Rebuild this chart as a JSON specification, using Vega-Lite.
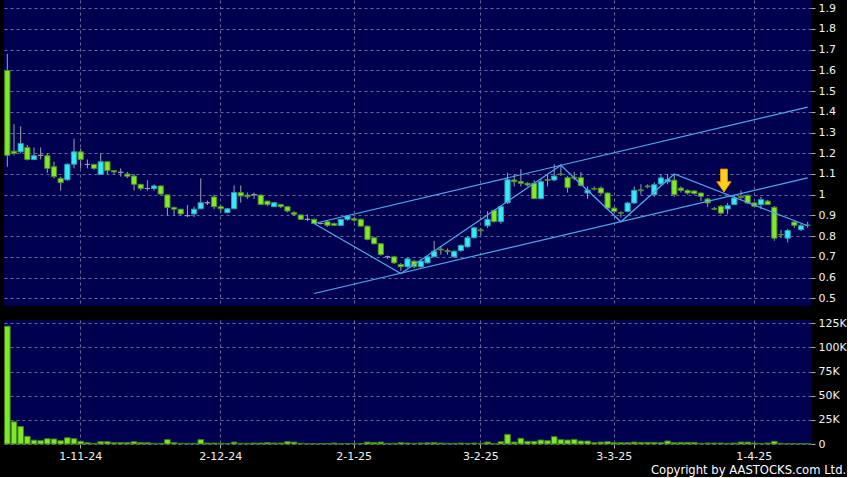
{
  "$schema": "https://vega.github.io/schema/vega-lite/v6.json",
  "background": "#000000",
  "padding": {"left": 4, "top": 0, "right": 0, "bottom": 0},
  "title": {"text": "Copyright by AASTOCKS.com Ltd.", "orient": "bottom", "anchor": "end", "fontSize": 11.6, "fontWeight": "normal", "color": "#ffffff", "font": "DejaVu Sans", "offset": 4},
  "config": {
    "view": {"fill": "#000050", "stroke": null},
    "axis": {"gridColor": "#6a6a9c", "gridDash": [3, 3], "gridWidth": 1, "labelFont": "DejaVu Sans", "labelFontSize": 11, "labelColor": "#f2f2f2", "tickColor": "#b0b0b0", "domain": false, "title": null, "labelOverlap": false}
  },
  "datasets": {
    "ohlc": [
      {"date": "17-10-24", "open": 1.60, "high": 1.68, "low": 1.135, "close": 1.19, "volume": 122000},
      {"date": "18-10-24", "open": 1.21, "high": 1.34, "low": 1.19, "close": 1.20, "volume": 23000},
      {"date": "21-10-24", "open": 1.207, "high": 1.33, "low": 1.20, "close": 1.247, "volume": 18000},
      {"date": "22-10-24", "open": 1.228, "high": 1.24, "low": 1.165, "close": 1.17, "volume": 8000},
      {"date": "23-10-24", "open": 1.17, "high": 1.228, "low": 1.167, "close": 1.188, "volume": 4000},
      {"date": "24-10-24", "open": 1.19, "high": 1.228, "low": 1.17, "close": 1.19, "volume": 3500},
      {"date": "25-10-24", "open": 1.188, "high": 1.20, "low": 1.106, "close": 1.127, "volume": 5500},
      {"date": "28-10-24", "open": 1.135, "high": 1.16, "low": 1.079, "close": 1.087, "volume": 5200},
      {"date": "29-10-24", "open": 1.079, "high": 1.087, "low": 1.02, "close": 1.058, "volume": 3400},
      {"date": "30-10-24", "open": 1.072, "high": 1.15, "low": 1.068, "close": 1.147, "volume": 6500},
      {"date": "31-10-24", "open": 1.147, "high": 1.27, "low": 1.127, "close": 1.207, "volume": 5500},
      {"date": "1-11-24", "open": 1.207, "high": 1.223, "low": 1.127, "close": 1.17, "volume": 2800},
      {"date": "4-11-24", "open": 1.146, "high": 1.17, "low": 1.127, "close": 1.146, "volume": 1400},
      {"date": "5-11-24", "open": 1.146, "high": 1.15, "low": 1.12, "close": 1.127, "volume": 700},
      {"date": "6-11-24", "open": 1.098, "high": 1.20, "low": 1.098, "close": 1.159, "volume": 2400},
      {"date": "7-11-24", "open": 1.159, "high": 1.16, "low": 1.10, "close": 1.116, "volume": 2400},
      {"date": "8-11-24", "open": 1.116, "high": 1.118, "low": 1.10, "close": 1.11, "volume": 1400},
      {"date": "11-11-24", "open": 1.108, "high": 1.127, "low": 1.087, "close": 1.108, "volume": 1400},
      {"date": "12-11-24", "open": 1.10, "high": 1.11, "low": 1.08, "close": 1.089, "volume": 1400},
      {"date": "13-11-24", "open": 1.09, "high": 1.10, "low": 1.02, "close": 1.05, "volume": 2400},
      {"date": "14-11-24", "open": 1.05, "high": 1.05, "low": 1.02, "close": 1.03, "volume": 1400},
      {"date": "15-11-24", "open": 1.03, "high": 1.07, "low": 1.02, "close": 1.03, "volume": 1400},
      {"date": "18-11-24", "open": 1.03, "high": 1.05, "low": 1.02, "close": 1.042, "volume": 700},
      {"date": "19-11-24", "open": 1.042, "high": 1.045, "low": 0.998, "close": 1.003, "volume": 700},
      {"date": "20-11-24", "open": 0.999, "high": 1.0, "low": 0.899, "close": 0.938, "volume": 4500},
      {"date": "21-11-24", "open": 0.938, "high": 0.943, "low": 0.899, "close": 0.93, "volume": 1400},
      {"date": "22-11-24", "open": 0.93, "high": 0.93, "low": 0.899, "close": 0.907, "volume": 700},
      {"date": "25-11-24", "open": 0.899, "high": 0.95, "low": 0.892, "close": 0.899, "volume": 700},
      {"date": "26-11-24", "open": 0.907, "high": 0.943, "low": 0.892, "close": 0.93, "volume": 700},
      {"date": "27-11-24", "open": 0.932, "high": 1.079, "low": 0.93, "close": 0.961, "volume": 4500},
      {"date": "28-11-24", "open": 0.961, "high": 0.972, "low": 0.95, "close": 0.961, "volume": 1000},
      {"date": "29-11-24", "open": 0.989, "high": 1.0, "low": 0.93, "close": 0.942, "volume": 1000},
      {"date": "2-12-24", "open": 0.942, "high": 0.95, "low": 0.915, "close": 0.932, "volume": 700},
      {"date": "3-12-24", "open": 0.913, "high": 0.935, "low": 0.91, "close": 0.932, "volume": 500},
      {"date": "4-12-24", "open": 0.932, "high": 1.045, "low": 0.93, "close": 1.01, "volume": 2000},
      {"date": "5-12-24", "open": 1.01, "high": 1.045, "low": 0.961, "close": 0.994, "volume": 700},
      {"date": "6-12-24", "open": 0.998, "high": 1.01, "low": 0.98, "close": 0.99, "volume": 700},
      {"date": "9-12-24", "open": 1.0, "high": 1.01, "low": 0.98, "close": 1.0, "volume": 1000},
      {"date": "10-12-24", "open": 0.998, "high": 1.0, "low": 0.95, "close": 0.953, "volume": 1000},
      {"date": "11-12-24", "open": 0.969, "high": 0.97, "low": 0.945, "close": 0.952, "volume": 1400},
      {"date": "12-12-24", "open": 0.942, "high": 0.965, "low": 0.94, "close": 0.961, "volume": 1000},
      {"date": "13-12-24", "open": 0.953, "high": 0.955, "low": 0.935, "close": 0.942, "volume": 1000},
      {"date": "16-12-24", "open": 0.942, "high": 0.942, "low": 0.915, "close": 0.921, "volume": 2400},
      {"date": "17-12-24", "open": 0.913, "high": 0.92, "low": 0.897, "close": 0.905, "volume": 2000},
      {"date": "18-12-24", "open": 0.902, "high": 0.905, "low": 0.878, "close": 0.881, "volume": 700},
      {"date": "19-12-24", "open": 0.881, "high": 0.905, "low": 0.873, "close": 0.881, "volume": 500},
      {"date": "20-12-24", "open": 0.881, "high": 0.884, "low": 0.858, "close": 0.861, "volume": 500},
      {"date": "23-12-24", "open": 0.861, "high": 0.866, "low": 0.856, "close": 0.861, "volume": 500},
      {"date": "24-12-24", "open": 0.869, "high": 0.877, "low": 0.845, "close": 0.852, "volume": 500},
      {"date": "27-12-24", "open": 0.861, "high": 0.865, "low": 0.848, "close": 0.852, "volume": 1000},
      {"date": "30-12-24", "open": 0.852, "high": 0.884, "low": 0.85, "close": 0.881, "volume": 500},
      {"date": "31-12-24", "open": 0.881, "high": 0.902, "low": 0.875, "close": 0.897, "volume": 500},
      {"date": "2-1-25", "open": 0.884, "high": 0.89, "low": 0.87, "close": 0.877, "volume": 500},
      {"date": "3-1-25", "open": 0.881, "high": 0.884, "low": 0.845, "close": 0.848, "volume": 500},
      {"date": "6-1-25", "open": 0.848, "high": 0.85, "low": 0.78, "close": 0.784, "volume": 2000},
      {"date": "7-1-25", "open": 0.792, "high": 0.795, "low": 0.76, "close": 0.763, "volume": 1400},
      {"date": "8-1-25", "open": 0.763, "high": 0.765, "low": 0.705, "close": 0.711, "volume": 2000},
      {"date": "9-1-25", "open": 0.70, "high": 0.706, "low": 0.69, "close": 0.70, "volume": 700},
      {"date": "10-1-25", "open": 0.70, "high": 0.705, "low": 0.665, "close": 0.671, "volume": 700},
      {"date": "13-1-25", "open": 0.663, "high": 0.67, "low": 0.632, "close": 0.652, "volume": 1400},
      {"date": "14-1-25", "open": 0.652, "high": 0.695, "low": 0.648, "close": 0.69, "volume": 1000},
      {"date": "15-1-25", "open": 0.679, "high": 0.685, "low": 0.645, "close": 0.652, "volume": 700},
      {"date": "16-1-25", "open": 0.652, "high": 0.69, "low": 0.648, "close": 0.679, "volume": 1000},
      {"date": "17-1-25", "open": 0.671, "high": 0.705, "low": 0.668, "close": 0.70, "volume": 1200},
      {"date": "20-1-25", "open": 0.70, "high": 0.776, "low": 0.70, "close": 0.727, "volume": 1400},
      {"date": "21-1-25", "open": 0.737, "high": 0.752, "low": 0.71, "close": 0.733, "volume": 1000},
      {"date": "22-1-25", "open": 0.73, "high": 0.74, "low": 0.71, "close": 0.725, "volume": 700},
      {"date": "23-1-25", "open": 0.70, "high": 0.73, "low": 0.695, "close": 0.727, "volume": 700},
      {"date": "24-1-25", "open": 0.73, "high": 0.76, "low": 0.725, "close": 0.755, "volume": 1000},
      {"date": "27-1-25", "open": 0.748, "high": 0.80, "low": 0.745, "close": 0.792, "volume": 700},
      {"date": "28-1-25", "open": 0.792, "high": 0.845, "low": 0.79, "close": 0.84, "volume": 1000},
      {"date": "3-2-25", "open": 0.83, "high": 0.84, "low": 0.805, "close": 0.826, "volume": 700},
      {"date": "4-2-25", "open": 0.85, "high": 0.92, "low": 0.84, "close": 0.881, "volume": 2000},
      {"date": "5-2-25", "open": 0.924, "high": 0.928, "low": 0.865, "close": 0.87, "volume": 500},
      {"date": "6-2-25", "open": 0.87, "high": 0.945, "low": 0.86, "close": 0.942, "volume": 2400},
      {"date": "7-2-25", "open": 0.961, "high": 1.106, "low": 0.955, "close": 1.072, "volume": 10000},
      {"date": "10-2-25", "open": 1.071, "high": 1.1, "low": 1.04, "close": 1.063, "volume": 2000},
      {"date": "11-2-25", "open": 1.063, "high": 1.123, "low": 1.04, "close": 1.055, "volume": 5900},
      {"date": "12-2-25", "open": 1.055, "high": 1.06, "low": 1.04, "close": 1.047, "volume": 2800},
      {"date": "13-2-25", "open": 1.055, "high": 1.07, "low": 0.978, "close": 0.981, "volume": 2800},
      {"date": "14-2-25", "open": 0.981, "high": 1.075, "low": 0.978, "close": 1.063, "volume": 4100},
      {"date": "17-2-25", "open": 1.073, "high": 1.1, "low": 1.04, "close": 1.069, "volume": 3400},
      {"date": "18-2-25", "open": 1.071, "high": 1.147, "low": 1.065, "close": 1.09, "volume": 7600},
      {"date": "19-2-25", "open": 1.10, "high": 1.147, "low": 1.09, "close": 1.097, "volume": 4500},
      {"date": "20-2-25", "open": 1.082, "high": 1.09, "low": 1.01, "close": 1.034, "volume": 4100},
      {"date": "21-2-25", "open": 1.084, "high": 1.11, "low": 1.07, "close": 1.08, "volume": 4800},
      {"date": "24-2-25", "open": 1.082, "high": 1.11, "low": 1.04, "close": 1.045, "volume": 3100},
      {"date": "25-2-25", "open": 1.008, "high": 1.04, "low": 0.98, "close": 1.022, "volume": 3100},
      {"date": "26-2-25", "open": 1.03, "high": 1.04, "low": 1.02, "close": 1.027, "volume": 1400},
      {"date": "27-2-25", "open": 1.032, "high": 1.04, "low": 1.0, "close": 1.008, "volume": 2000},
      {"date": "28-2-25", "open": 1.008, "high": 1.01, "low": 0.93, "close": 0.935, "volume": 2400},
      {"date": "3-3-25", "open": 0.935, "high": 0.94, "low": 0.91, "close": 0.919, "volume": 1400},
      {"date": "4-3-25", "open": 0.913, "high": 0.92, "low": 0.89, "close": 0.911, "volume": 1400},
      {"date": "5-3-25", "open": 0.919, "high": 0.965, "low": 0.915, "close": 0.96, "volume": 1400},
      {"date": "6-3-25", "open": 0.96, "high": 1.04, "low": 0.955, "close": 1.021, "volume": 2000},
      {"date": "7-3-25", "open": 1.023, "high": 1.05, "low": 1.0, "close": 1.019, "volume": 1700},
      {"date": "10-3-25", "open": 1.042, "high": 1.05, "low": 1.03, "close": 1.038, "volume": 1700},
      {"date": "11-3-25", "open": 1.0, "high": 1.06, "low": 0.99, "close": 1.048, "volume": 1700},
      {"date": "12-3-25", "open": 1.052, "high": 1.1, "low": 1.045, "close": 1.081, "volume": 1400},
      {"date": "13-3-25", "open": 1.062, "high": 1.1, "low": 1.05, "close": 1.073, "volume": 3100},
      {"date": "14-3-25", "open": 1.07, "high": 1.1, "low": 0.99, "close": 1.0, "volume": 1400},
      {"date": "17-3-25", "open": 1.032, "high": 1.04, "low": 1.01, "close": 1.021, "volume": 1700},
      {"date": "18-3-25", "open": 1.021, "high": 1.025, "low": 1.0, "close": 1.008, "volume": 1700},
      {"date": "19-3-25", "open": 1.018, "high": 1.02, "low": 1.0, "close": 1.005, "volume": 1700},
      {"date": "20-3-25", "open": 1.008, "high": 1.01, "low": 0.97, "close": 0.992, "volume": 700},
      {"date": "21-3-25", "open": 0.979, "high": 0.985, "low": 0.94, "close": 0.96, "volume": 1000},
      {"date": "24-3-25", "open": 0.932, "high": 0.94, "low": 0.925, "close": 0.93, "volume": 1000},
      {"date": "25-3-25", "open": 0.944, "high": 0.95, "low": 0.905, "close": 0.911, "volume": 1000},
      {"date": "26-3-25", "open": 0.931, "high": 0.96, "low": 0.905, "close": 0.947, "volume": 700},
      {"date": "27-3-25", "open": 0.952, "high": 1.0, "low": 0.95, "close": 0.984, "volume": 1000},
      {"date": "28-3-25", "open": 0.99, "high": 1.02, "low": 0.976, "close": 0.986, "volume": 2000},
      {"date": "31-3-25", "open": 0.997, "high": 1.0, "low": 0.955, "close": 0.96, "volume": 2000},
      {"date": "1-4-25", "open": 0.96, "high": 0.965, "low": 0.94, "close": 0.944, "volume": 1000},
      {"date": "2-4-25", "open": 0.952, "high": 0.99, "low": 0.93, "close": 0.976, "volume": 500},
      {"date": "3-4-25", "open": 0.969, "high": 0.975, "low": 0.95, "close": 0.952, "volume": 1000},
      {"date": "7-4-25", "open": 0.939, "high": 0.945, "low": 0.778, "close": 0.79, "volume": 2800},
      {"date": "8-4-25", "open": 0.808, "high": 0.83, "low": 0.79, "close": 0.806, "volume": 700},
      {"date": "9-4-25", "open": 0.79, "high": 0.835, "low": 0.77, "close": 0.827, "volume": 500},
      {"date": "10-4-25", "open": 0.868, "high": 0.876, "low": 0.84, "close": 0.852, "volume": 500},
      {"date": "11-4-25", "open": 0.831, "high": 0.86, "low": 0.825, "close": 0.85, "volume": 500},
      {"date": "14-4-25", "open": 0.853, "high": 0.87, "low": 0.84, "close": 0.852, "volume": 500}
    ],
    "lines": [
      {"seg": "upper", "k": 0, "date": "20-12-24", "p": 0.861},
      {"seg": "upper", "k": 1, "date": "14-4-25", "p": 1.423},
      {"seg": "lower", "k": 0, "date": "20-12-24", "p": 0.523},
      {"seg": "lower", "k": 1, "date": "14-4-25", "p": 1.081},
      {"seg": "zig", "k": 0, "date": "20-12-24", "p": 0.861},
      {"seg": "zig", "k": 1, "date": "13-1-25", "p": 0.619},
      {"seg": "zig", "k": 2, "date": "19-2-25", "p": 1.142},
      {"seg": "zig", "k": 3, "date": "4-3-25", "p": 0.869},
      {"seg": "zig", "k": 4, "date": "14-3-25", "p": 1.10},
      {"seg": "zig", "k": 5, "date": "14-4-25", "p": 0.85}
    ],
    "arrow": [{"date": "25-3-25", "p": 1.068}]
  },
  "spacing": 11,
  "vconcat": [
    {
      "width": 807,
      "height": 306,
      "encoding": {
        "x": {
          "field": "date", "type": "ordinal", "sort": null,
          "scale": {"paddingInner": 0, "paddingOuter": 0, "domain": ["17-10-24","18-10-24","21-10-24","22-10-24","23-10-24","24-10-24","25-10-24","28-10-24","29-10-24","30-10-24","31-10-24","1-11-24","4-11-24","5-11-24","6-11-24","7-11-24","8-11-24","11-11-24","12-11-24","13-11-24","14-11-24","15-11-24","18-11-24","19-11-24","20-11-24","21-11-24","22-11-24","25-11-24","26-11-24","27-11-24","28-11-24","29-11-24","2-12-24","3-12-24","4-12-24","5-12-24","6-12-24","9-12-24","10-12-24","11-12-24","12-12-24","13-12-24","16-12-24","17-12-24","18-12-24","19-12-24","20-12-24","23-12-24","24-12-24","27-12-24","30-12-24","31-12-24","2-1-25","3-1-25","6-1-25","7-1-25","8-1-25","9-1-25","10-1-25","13-1-25","14-1-25","15-1-25","16-1-25","17-1-25","20-1-25","21-1-25","22-1-25","23-1-25","24-1-25","27-1-25","28-1-25","3-2-25","4-2-25","5-2-25","6-2-25","7-2-25","10-2-25","11-2-25","12-2-25","13-2-25","14-2-25","17-2-25","18-2-25","19-2-25","20-2-25","21-2-25","24-2-25","25-2-25","26-2-25","27-2-25","28-2-25","3-3-25","4-3-25","5-3-25","6-3-25","7-3-25","10-3-25","11-3-25","12-3-25","13-3-25","14-3-25","17-3-25","18-3-25","19-3-25","20-3-25","21-3-25","24-3-25","25-3-25","26-3-25","27-3-25","28-3-25","31-3-25","1-4-25","2-4-25","3-4-25","7-4-25","8-4-25","9-4-25","10-4-25","11-4-25","14-4-25"]},
          "axis": {"values": ["1-11-24", "2-12-24", "2-1-25", "3-2-25", "3-3-25", "1-4-25"], "labels": false, "ticks": false, "grid": true, "bandPosition": 0.5}
        }
      },
      "layer": [
        {
          "data": {"name": "ohlc"},
          "mark": {"type": "rule", "color": "#a0a0b0", "strokeWidth": 1},
          "encoding": {
            "y": {"field": "low", "type": "quantitative", "scale": {"domain": [0.4625, 1.94], "nice": false, "zero": false},
              "axis": {"orient": "right", "values": [0.5, 0.6, 0.7, 0.8, 0.9, 1.0, 1.1, 1.2, 1.3, 1.4, 1.5, 1.6, 1.7, 1.8, 1.9], "format": ".1~f", "grid": true, "tickSize": 4, "labelPadding": 3, "labelOverlap": false, "labelFlush": false}},
            "y2": {"field": "high"}
          }
        },
        {
          "data": {"name": "ohlc"},
          "mark": {"type": "bar", "width": {"band": 0.78}, "strokeWidth": 1},
          "encoding": {
            "y": {"field": "open", "type": "quantitative",
              "axis": {"orient": "right", "values": [0.5, 0.6, 0.7, 0.8, 0.9, 1.0, 1.1, 1.2, 1.3, 1.4, 1.5, 1.6, 1.7, 1.8, 1.9], "format": ".1~f", "grid": true, "tickSize": 4, "labelPadding": 3, "labelOverlap": false, "labelFlush": false}},
            "y2": {"field": "close"},
            "fill": {"condition": [{"test": "datum.close > datum.open", "value": "#38e8f4"}, {"test": "datum.close < datum.open", "value": "#82e82c"}], "value": "#9a9aaa"},
            "stroke": {"condition": [{"test": "datum.close > datum.open", "value": "#2a9fb2"}, {"test": "datum.close < datum.open", "value": "#4e8e26"}], "value": "#9a9aaa"}
          }
        },
        {
          "data": {"name": "lines"},
          "mark": {"type": "line", "color": "#4fa8ea", "strokeWidth": 1.2},
          "encoding": {
            "y": {"field": "p", "type": "quantitative",
              "axis": {"orient": "right", "values": [0.5, 0.6, 0.7, 0.8, 0.9, 1.0, 1.1, 1.2, 1.3, 1.4, 1.5, 1.6, 1.7, 1.8, 1.9], "format": ".1~f", "grid": true, "tickSize": 4, "labelPadding": 3, "labelOverlap": false, "labelFlush": false}},
            "detail": {"field": "seg"},
            "order": {"field": "k"}
          }
        },
        {
          "data": {"name": "arrow"},
          "mark": {"type": "point", "shape": "M-0.3,-1L0.3,-1L0.3,0.1L0.62,0.1L0,1L-0.62,0.1L-0.3,0.1Z", "size": 530, "filled": true, "fill": "#ffcf1c", "stroke": "#e08c00", "strokeWidth": 1, "opacity": 1, "xOffset": 3},
          "encoding": {
            "y": {"field": "p", "type": "quantitative",
              "axis": {"orient": "right", "values": [0.5, 0.6, 0.7, 0.8, 0.9, 1.0, 1.1, 1.2, 1.3, 1.4, 1.5, 1.6, 1.7, 1.8, 1.9], "format": ".1~f", "grid": true, "tickSize": 4, "labelPadding": 3, "labelOverlap": false, "labelFlush": false}}
          }
        }
      ]
    },
    {
      "width": 807,
      "height": 124,
      "data": {"name": "ohlc"},
      "mark": {"type": "bar", "width": {"band": 0.85}, "fill": "#80e82a", "stroke": "#3f7d18", "strokeWidth": 1},
      "encoding": {
        "x": {"field": "date", "type": "ordinal", "sort": null, "scale": {"paddingInner": 0, "paddingOuter": 0},
          "axis": {"values": ["1-11-24", "2-12-24", "2-1-25", "3-2-25", "3-3-25", "1-4-25"], "labelAngle": 0, "tickSize": 4, "labelPadding": 2, "grid": true, "bandPosition": 0.5}},
        "y": {"field": "volume", "type": "quantitative", "scale": {"domain": [0, 128400], "nice": false},
          "axis": {"orient": "right", "values": [0, 25000, 50000, 75000, 100000, 125000], "labelExpr": "datum.value == 0 ? '0' : (datum.value / 1000) + 'K'", "grid": true, "tickSize": 4, "labelPadding": 3}}
      }
    }
  ]
}
